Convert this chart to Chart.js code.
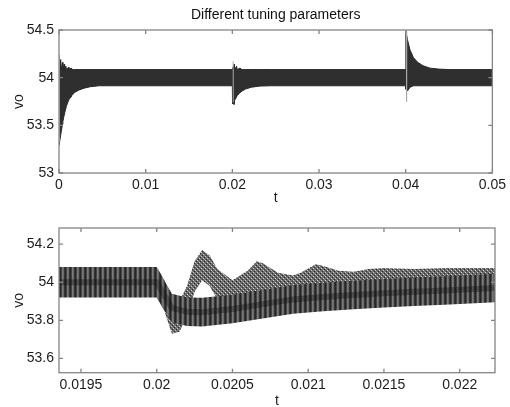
<!DOCTYPE html>
<html>
<head>
<meta charset="utf-8">
<script src="https://cdn.jsdelivr.net/npm/chart.js@4.4.1/dist/chart.umd.min.js"></script>
<style>
  html, body { margin: 0; padding: 0; background: #fff; overflow: hidden; }
  #vFull { position: absolute; left: 0; top: 0; }
  #vZoom { position: absolute; left: 0; top: 207px; }
</style>
</head>
<body>
<canvas id="vFull" width="510" height="207"></canvas>
<canvas id="vZoom" width="510" height="203"></canvas>
<script>
// whole run: ripple envelope of vo, load steps at 0, 0.02 and 0.04 s
const tFull = [0, 0.00002, 0.0002, 0.00025, 0.0004, 0.00045, 0.0006, 0.00065, 0.0008, 0.00085,
  0.0011, 0.00115, 0.0014, 0.00145, 0.0018, 0.0023, 0.0029, 0.0036, 0.0046, 0.02,
  0.02002, 0.0202, 0.02025, 0.0205, 0.02055, 0.0209, 0.02095, 0.0215, 0.0222, 0.0232,
  0.0245, 0.04, 0.04002, 0.0402, 0.0405, 0.0409, 0.0414, 0.042, 0.0428, 0.0438,
  0.045, 0.05];
const vFullHi = [54.10, 54.10, 54.19, 54.085, 54.16, 54.085, 54.14, 54.085, 54.12, 54.085,
  54.11, 54.085, 54.10, 54.085, 54.085, 54.085, 54.085, 54.085, 54.085, 54.085,
  54.085, 54.14, 54.085, 54.12, 54.085, 54.10, 54.085, 54.085, 54.085, 54.085,
  54.085, 54.085, 54.49, 54.40, 54.29, 54.21, 54.16, 54.125, 54.10, 54.09,
  54.085, 54.085];
const vFullLo = [53.29, 53.29, 53.40, 53.43, 53.51, 53.54, 53.61, 53.63, 53.68, 53.70,
  53.76, 53.77, 53.80, 53.81, 53.845, 53.87, 53.89, 53.905, 53.915, 53.915,
  53.73, 53.72, 53.76, 53.80, 53.81, 53.845, 53.85, 53.88, 53.90, 53.912,
  53.915, 53.915, 53.88, 53.86, 53.90, 53.915, 53.915, 53.915, 53.915, 53.915,
  53.915, 53.915];
// light grey ringing right at the steps (null breaks the line)
const tRing = [0.00005, 0.00005, 0.00005, 0.0201, 0.0201, 0.0201, 0.0401, 0.0401];
const vRing = [53.33, 54.24, null, 53.74, 54.17, null, 54.49, 53.75];

// zoom around the 0.02 s step
const tSlow = [0.01935, 0.02, 0.0201, 0.0202, 0.0203, 0.0205, 0.0207, 0.0209, 0.0211, 0.0213,
  0.0215, 0.0217, 0.0219, 0.0221, 0.02224];
const vSlowLo = [53.92, 53.92, 53.79, 53.77, 53.768, 53.785, 53.81, 53.835, 53.848, 53.858,
  53.867, 53.875, 53.882, 53.89, 53.895];
const vSlowMid = [54.0, 54.0, 53.865, 53.845, 53.843, 53.86, 53.885, 53.91, 53.923, 53.933,
  53.942, 53.95, 53.957, 53.965, 53.97];
const vSlowHi = [54.08, 54.08, 53.94, 53.92, 53.918, 53.935, 53.96, 53.985, 53.998, 54.008,
  54.017, 54.025, 54.032, 54.04, 54.045];
const tFast = [0.02, 0.02005, 0.0201, 0.02015, 0.0202, 0.02025, 0.0203, 0.02035, 0.0204, 0.0205,
  0.0206, 0.02066, 0.0207, 0.0208, 0.0209, 0.02095, 0.02105, 0.0211, 0.0212, 0.0213,
  0.0214, 0.0215, 0.0217, 0.0219, 0.02224];
const vFastLo = [53.92, 53.85, 53.73, 53.74, 53.82, 53.95, 54.01, 53.98, 53.91, 53.85,
  53.90, 53.95, 53.94, 53.89, 53.875, 53.89, 53.935, 53.925, 53.90, 53.895,
  53.91, 53.915, 53.91, 53.915, 53.915];
const vFastHi = [54.08, 54.01, 53.89, 53.90, 53.98, 54.11, 54.17, 54.14, 54.07, 54.01,
  54.06, 54.11, 54.10, 54.05, 54.035, 54.05, 54.095, 54.085, 54.06, 54.055,
  54.07, 54.075, 54.07, 54.075, 54.075];

const xTicksFull = [0, 0.01, 0.02, 0.03, 0.04, 0.05];
const yTicksFull = [53, 53.5, 54, 54.5];
const xTicksZoom = [0.0195, 0.02, 0.0205, 0.021, 0.0215, 0.022];
const yTicksZoom = [53.6, 53.8, 54, 54.2];

const pts = (xs, ys) => xs.map((x, i) => ({ x: x, y: ys[i] }));

Chart.defaults.font.family = '"Liberation Sans", Arial, sans-serif';
Chart.defaults.font.size = 14;
Chart.defaults.color = '#1c1c1c';

// small repeating tiles for the ripple texture
function makePattern(w, h, paint) {
  const c = document.createElement('canvas');
  c.width = w; c.height = h;
  const g = c.getContext('2d');
  paint(g);
  return g.createPattern(c, 'repeat');
}
const stripes = makePattern(5, 1, g => {
  const cols = ['#262626', '#444444', '#7a7a7a', '#686868', '#363636'];
  cols.forEach((c, i) => { g.fillStyle = c; g.fillRect(i, 0, 1, 1); });
});
const hatch = makePattern(4, 4, g => {
  g.fillStyle = '#666666'; g.fillRect(0, 0, 4, 4);
  g.fillStyle = '#cfcfcf'; g.fillRect(1, 1, 1, 1); g.fillRect(3, 3, 1, 1);
  g.fillStyle = '#303030'; g.fillRect(0, 2, 1, 1); g.fillRect(2, 0, 1, 1);
  g.fillStyle = '#8a8a8a'; g.fillRect(0, 0, 1, 1); g.fillRect(2, 2, 1, 1);
});

// box round the axes with inward ticks on all four sides
const matlabFrame = {
  id: 'matlabFrame',
  afterDatasetsDraw(chart) {
    const { ctx, chartArea: a, scales: { x, y } } = chart;
    ctx.save();
    ctx.strokeStyle = '#858585';
    ctx.lineWidth = 1.3;
    ctx.strokeRect(a.left, a.top, a.right - a.left, a.bottom - a.top);
    ctx.beginPath();
    x.ticks.forEach(t => {
      const px = x.getPixelForValue(t.value);
      ctx.moveTo(px, a.bottom); ctx.lineTo(px, a.bottom - 4);
      ctx.moveTo(px, a.top); ctx.lineTo(px, a.top + 4);
    });
    y.ticks.forEach(t => {
      const py = y.getPixelForValue(t.value);
      ctx.moveTo(a.left, py); ctx.lineTo(a.left + 4, py);
      ctx.moveTo(a.right, py); ctx.lineTo(a.right - 4, py);
    });
    ctx.stroke();
    ctx.restore();
  }
};

function axes(xMin, xMax, xTicks, yMin, yMax, yTicks, xHeight) {
  return {
    x: {
      type: 'linear', min: xMin, max: xMax,
      grid: { display: false, drawTicks: false }, border: { display: false },
      afterBuildTicks: s => { s.ticks = xTicks.map(v => ({ value: v })); },
      afterFit: s => { s.height = xHeight; },
      ticks: { padding: 4, maxRotation: 0, callback: v => String(v) },
      title: { display: true, text: 't', padding: 0 }
    },
    y: {
      min: yMin, max: yMax,
      grid: { display: false, drawTicks: false }, border: { display: false },
      afterBuildTicks: s => { s.ticks = yTicks.map(v => ({ value: v })); },
      afterFit: s => { s.width = 59; },
      ticks: { padding: 5, callback: v => String(v) },
      title: { display: true, text: 'vo', padding: { top: 11, bottom: 0 } }
    }
  };
}

const base = {
  responsive: false,
  animation: false,
  events: [],
  elements: { point: { radius: 0 } },
  plugins: { legend: { display: false }, tooltip: { enabled: false } }
};

new Chart(document.getElementById('vFull'), {
  type: 'line',
  data: {
    datasets: [
      { data: pts(tRing, vRing), borderColor: '#a8a8a8', borderWidth: 1, fill: false },
      { data: pts(tFull, vFullLo), borderColor: '#2a2a2a', borderWidth: 1, fill: false },
      { data: pts(tFull, vFullHi), borderColor: '#2a2a2a', borderWidth: 1,
        backgroundColor: '#2f2f2f', fill: '-1' }
    ]
  },
  options: {
    ...base,
    layout: { padding: { left: 0, right: 16, top: 0, bottom: 0 } },
    scales: axes(0, 0.05, xTicksFull, 53, 54.5, yTicksFull, 34),
    plugins: {
      ...base.plugins,
      title: {
        display: true, fullSize: false, text: 'Different tuning parameters',
        color: '#111', font: { size: 14, weight: 'normal' },
        padding: { top: 6.6, bottom: 6.6 }
      }
    }
  },
  plugins: [matlabFrame]
});

new Chart(document.getElementById('vZoom'), {
  type: 'line',
  data: {
    datasets: [
      // darker trace where the slow cases pile up
      { data: pts(tSlow, vSlowMid), borderColor: 'rgba(15,15,15,0.35)', borderWidth: 6, fill: false },
      { data: pts(tSlow, vSlowLo), borderColor: 'rgba(0,0,0,0)', fill: false },
      { data: pts(tSlow, vSlowHi), borderColor: 'rgba(0,0,0,0)',
        backgroundColor: stripes, fill: '-1' },
      { data: pts(tFast, vFastLo), borderColor: 'rgba(0,0,0,0)', fill: false },
      { data: pts(tFast, vFastHi), borderColor: 'rgba(0,0,0,0)',
        backgroundColor: hatch, fill: '-1' }
    ]
  },
  options: {
    ...base,
    layout: { padding: { left: 0, right: 15, top: 21, bottom: 0 } },
    scales: axes(0.019355, 0.022233, xTicksZoom, 53.525, 54.285, yTicksZoom, 37.3)
  },
  plugins: [matlabFrame]
});
</script>
</body>
</html>
